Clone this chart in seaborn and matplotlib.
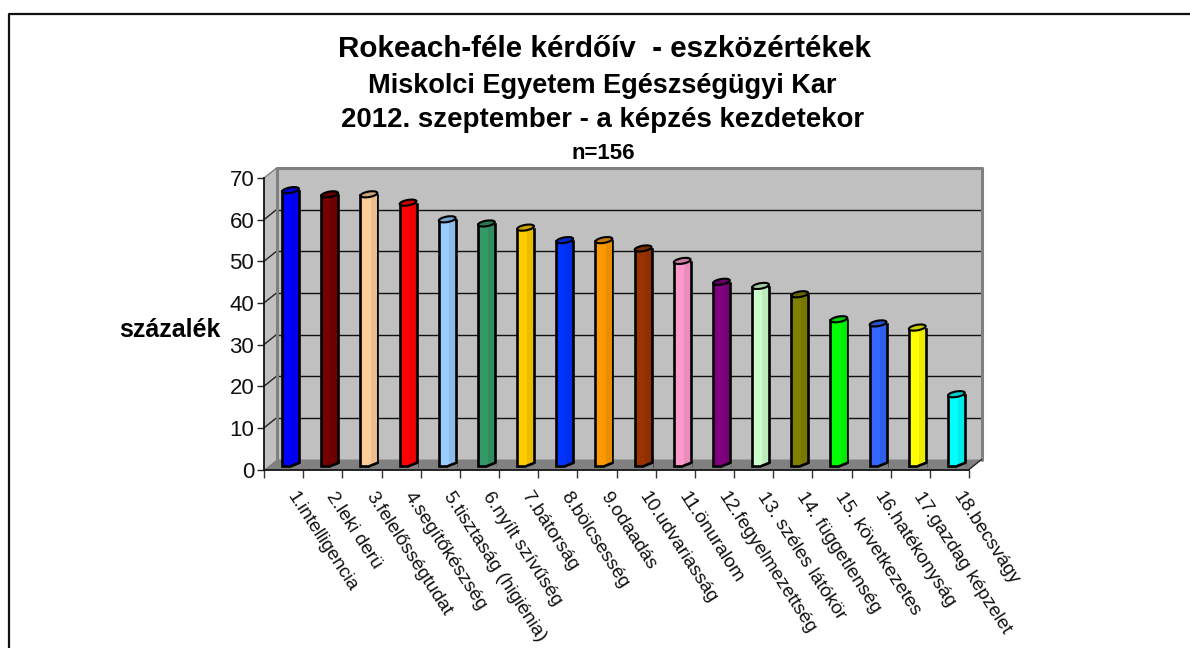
import matplotlib
matplotlib.use('Agg')
import matplotlib.pyplot as plt
import seaborn as sns
import pandas as pd
from matplotlib.colors import to_rgb
from matplotlib.lines import Line2D
from matplotlib.patches import Ellipse, Polygon, Rectangle
from matplotlib.transforms import Affine2D

labels = ['1.intelligencia', '2.leki derü', '3.felelősségtudat', '4.segítőkészség',
          '5.tisztaság (higiénia)', '6.nyílt szívűség', '7.bátorság', '8.bölcsesség',
          '9.odaadás', '10.udvariasság', '11.önuralom', '12.fegyelmezettség',
          '13. széles látókör', '14. függetlenség', '15. következetes', '16.hatékonyság',
          '17.gazdag képzelet', '18.becsvágy']
values = [66, 65, 65, 63, 59, 58, 57, 54, 54, 52, 49, 44, 43, 41, 35, 34, 33, 17]
colors = ['#0000FF', '#740000', '#FFCC99', '#FF0000', '#99CCFF', '#339966', '#FFCC00', '#0033FF',
          '#FF9900', '#993300', '#FF99CC', '#800080', '#CCFFCC', '#808000', '#00FF00', '#3366FF',
          '#FFFF00', '#00FFFF']
yticks = [0, 10, 20, 30, 40, 50, 60, 70]

sns.set_style('white')
plt.rcParams['font.family'] = ['Liberation Sans', 'DejaVu Sans']
plt.rcParams['text.color'] = 'black'

W, H = 1190, 648
fig = plt.figure(figsize=(W / 100, H / 100), dpi=100, facecolor='white')
ax = fig.add_axes([264 / W, 1 - 469.5 / H, 705 / W, 291.5 / H])
ax.patch.set_visible(False)

df = pd.DataFrame({'label': labels, 'value': values})
sns.barplot(data=df, x='label', y='value', hue='label', palette=colors, legend=False,
            width=0.43, saturation=1, edgecolor='black', linewidth=1.9, ax=ax, zorder=5)
ax.set_xlim(-0.5, len(labels) - 0.5)
ax.set_ylim(0, 70)
ax.set_xlabel('')
ax.set_ylabel('')

# fake 3D box: back wall sits right and up from the axes plane
back = ax.transData + Affine2D().translate(12.5, 10)
bar_off = ax.transData + Affine2D().translate(7, 3.5)
x0, x1 = -0.5, len(labels) - 0.5

ax.add_patch(Polygon([(x0, 0), (x1, 0), (x1, 70), (x0, 70)], transform=back, fc='#C0C0C0',
                     ec='none', clip_on=False, zorder=1))
left_wall = [ax.transData.transform((x0, 0)), back.transform((x0, 0)),
             back.transform((x0, 70)), ax.transData.transform((x0, 70))]
floor = [ax.transData.transform((x0, 0)), back.transform((x0, 0)),
         back.transform((x1, 0)), ax.transData.transform((x1, 0))]
ax.add_patch(Polygon(left_wall, transform=None, fc='#C0C0C0', ec='none', clip_on=False, zorder=1))
ax.add_patch(Polygon(floor, transform=None, fc='#808080', ec='none', clip_on=False, zorder=2))

for v in yticks[1:-1]:
    ax.add_line(Line2D([x0, x1], [v, v], transform=back, color='#111111', lw=1, clip_on=False, zorder=2))
for v in yticks[1:]:
    a = ax.transData.transform((x0, v))
    b = back.transform((x0, v))
    ax.add_line(Line2D([a[0], b[0]], [a[1], b[1]], transform=None, color='#222222' if v < 70 else '#808080',
                       lw=1, clip_on=False, zorder=2))
a = ax.transData.transform((x1, 0))
b = back.transform((x1, 0))
ax.add_line(Line2D([a[0], b[0]], [a[1], b[1]], transform=None, color='#222222', lw=1, clip_on=False, zorder=3))
ax.add_line(Line2D([x0, x0, x1, x1], [0, 70, 70, 0], transform=back, color='#808080', lw=2.2,
                   clip_on=False, zorder=2))

# cylinder look: shade on the right, ellipse on top, slanted foot
for patch, col in zip(ax.patches[:len(labels)], colors):
    patch.set_transform(bar_off)
    patch.set_clip_on(False)
    x, w, h = patch.get_x(), patch.get_width(), patch.get_height()
    rgb = to_rgb(col)
    dark = tuple(c * 0.92 for c in rgb)
    ax.add_patch(Rectangle((x + w * 0.6, 0), w * 0.36, h, transform=bar_off, fc=dark, ec='none',
                           clip_on=False, zorder=6))
    cx, cy = bar_off.transform((x + w / 2, h))
    ax.add_patch(Ellipse((cx, cy + 1), 17, 5.5, angle=10, transform=None, fc=tuple(c * 0.8 for c in rgb),
                         ec='black', lw=1.5, clip_on=False, zorder=7))
    xm, y0 = bar_off.transform((x + w * 0.55, 0))
    xr, _ = bar_off.transform((x + w, 0))
    ax.add_patch(Polygon([(xm, y0 - 2.5), (xr + 2, y0 - 2.5), (xr + 2, y0 + 2.6), (xm, y0 - 0.4)], transform=None,
                         fc='#808080', ec='none', clip_on=False, zorder=7))
    ax.add_line(Line2D([xm, xr], [y0, y0 + 3], transform=None, color='black', lw=1.9, clip_on=False, zorder=8))

sns.despine(ax=ax, top=True, right=True)
for s in ['left', 'bottom']:
    ax.spines[s].set_color('#111111')
    ax.spines[s].set_linewidth(1.3)
    ax.spines[s].set_zorder(9)

ax.set_yticks(yticks)
ax.tick_params(axis='y', left=True, length=5, width=1, color='#222222', labelsize=16, pad=2, labelcolor='#111111')
ax.set_xticks(range(len(labels)))
ax.set_xticks([i - 0.5 for i in range(len(labels) + 1)], minor=True)
ax.tick_params(axis='x', which='minor', bottom=True, length=6, width=1, color='#333333')
ax.tick_params(axis='x', which='major', bottom=False, length=0, pad=17)
ax.set_xticklabels(labels, rotation=-57, ha='left', va='center', rotation_mode='anchor',
                   fontsize=13.8, color='#111111')
for tl in ax.get_xticklabels():
    tl.set_transform(tl.get_transform() + Affine2D().translate(7, 0))

fig.text(170 / W, 1 - 330 / H, 'százalék', fontsize=18, fontweight='bold', ha='center', va='center')
fig.text(604 / W, 1 - 49 / H, 'Rokeach-féle kérdőív  - eszközértékek', fontsize=21.3, fontweight='bold',
         ha='center', va='center')
fig.text(602 / W, 1 - 86 / H, 'Miskolci Egyetem Egészségügyi Kar', fontsize=19.5, fontweight='bold',
         ha='center', va='center')
fig.text(603 / W, 1 - 120 / H, '2012. szeptember - a képzés kezdetekor', fontsize=19.9, fontweight='bold',
         ha='center', va='center')
fig.text(603 / W, 1 - 153 / H, 'n=156', fontsize=16, fontweight='bold', ha='center', va='center')

# outer frame, cut off at right and bottom of the picture
fig.add_artist(Line2D([9 / W, 9 / W, 1], [0, 1 - 14 / H, 1 - 14 / H], color='#111111', lw=1.6))

fig.savefig('out.png', dpi=100)
